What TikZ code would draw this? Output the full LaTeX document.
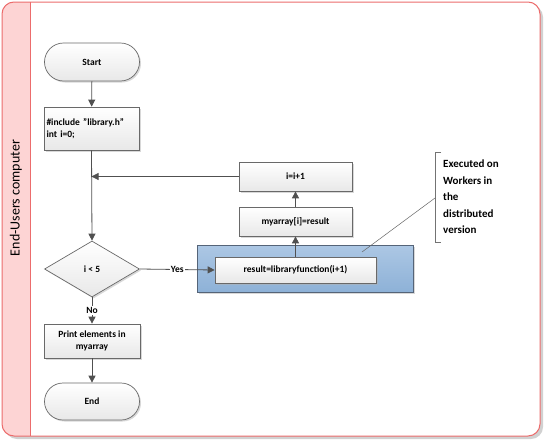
\documentclass[tikz,border=0pt]{standalone}
\usepackage{fontspec}
\setmainfont{Carlito}
\usetikzlibrary{shapes.geometric,arrows.meta,shadows}
\definecolor{framec}{RGB}{236,108,108}
\definecolor{bandc}{RGB}{253,212,212}
\definecolor{linec}{RGB}{80,80,80}
\definecolor{boxline}{RGB}{105,105,105}
\definecolor{blueT}{RGB}{172,199,228}
\definecolor{blueB}{RGB}{141,177,215}
\definecolor{blueLine}{RGB}{85,100,120}
\begin{document}
\begin{tikzpicture}[x=1pt,y=-1pt,
  flow/.style={draw=boxline, line width=0.7pt, top color=white, bottom color=black!9,
    drop shadow={shadow xshift=1.5pt, shadow yshift=-1.5pt, fill=black!30, opacity=0.5},
    font=\bfseries\fontsize{9.5}{12}\selectfont, inner sep=0pt, align=center},
  conn/.style={draw=linec, line width=0.8pt, -{Triangle[length=7pt,width=7pt]}},
  plainline/.style={draw=linec, line width=0.8pt},
  lbl/.style={fill=white, inner sep=1pt, font=\bfseries\fontsize{9.5}{11}\selectfont}]
\useasboundingbox (0,0) rectangle (546,442);
% lane frame
\fill[black!18, rounded corners=12pt] (5,5) rectangle (543,439);
\begin{scope}
  \clip[rounded corners=12pt] (2,2) rectangle (540,436);
  \fill[white] (2,2) rectangle (540,436);
  \fill[bandc] (2,2) rectangle (30,436);
\end{scope}
\draw[framec, line width=1pt, rounded corners=12pt] (2,2) rectangle (540,436);
\draw[framec, line width=0.8pt] (30,2) -- (30,436);
\node[rotate=90, font=\fontsize{14}{16}\selectfont] (lane) at (16,198) {End-Users computer};
% nodes
\node[flow, rounded corners=19pt, minimum width=95pt, minimum height=38pt] (start) at (92,62) {Start};
\node[flow, minimum width=95pt, minimum height=43pt, text width=90pt, align=left] (incl) at (91.5,128.5) {\#include "library.h"\\int i=0;};
\node[flow, diamond, minimum width=95pt, minimum height=56pt] (dec) at (92,269) {i < 5};
\node[flow, minimum width=96pt, minimum height=34pt] (print) at (92,341) {Print elements in\\myarray};
\node[flow, rounded corners=18.5pt, minimum width=95pt, minimum height=37pt] (end) at (92,401.5) {End};
\node[draw=blueLine, line width=0.8pt, top color=blueT, bottom color=blueB,
  drop shadow={shadow xshift=1.5pt, shadow yshift=-1.5pt, fill=black!30, opacity=0.5},
  minimum width=216pt, minimum height=47pt, inner sep=0pt] (cont) at (305,269) {};
\node[flow, minimum width=161pt, minimum height=26pt] (result) at (295.5,270) {result=libraryfunction(i+1)};
\node[flow, minimum width=113pt, minimum height=29pt] (myarr) at (295.5,221.5) {myarray[i]=result};
\node[flow, minimum width=113pt, minimum height=29pt] (inc) at (295.5,176.5) {i=i+1};
% connectors
\draw[conn] (start) -- (incl);
\draw[conn] (incl.south) -- (dec.north);
\draw[conn] (inc.west) -- (inc.west -| incl.south);
\draw[conn] (dec.east) -- node[lbl] {Yes} (result.west);
\draw[conn] (dec.south) -- node[lbl] {No} (print.north);
\draw[conn] (print) -- (end);
\draw[conn] (result.north) -- (myarr.south);
\draw[conn] (myarr) -- (inc);
% annotation
\draw[black!55, line width=0.7pt] (441,152) -- (435,152) -- (435,242) -- (441,242);
\coordinate (brk) at (435,198);
\coordinate (tgt) at (362,252);
\draw[black!60, line width=0.5pt] (brk) -- (tgt);
\node[anchor=north west, align=left, inner sep=0pt,
  font=\bfseries\fontsize{11}{16.5}\selectfont] (note) at (443,160) {Executed on\\Workers in\\the\\distributed\\version};
\end{tikzpicture}
\end{document}
